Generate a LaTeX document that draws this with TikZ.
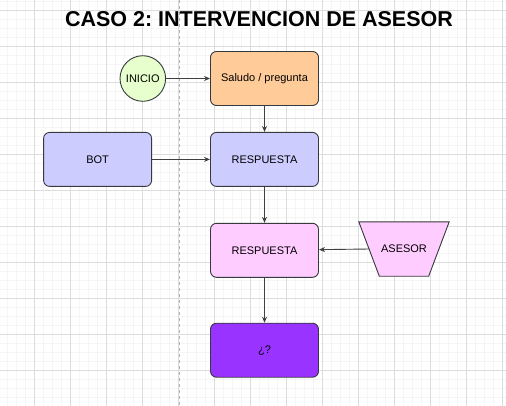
\documentclass[tikz,border=0pt]{standalone}
\usepackage{fontspec}
\setmainfont{Liberation Sans}
\usepackage{tikz}
\usetikzlibrary{arrows.meta,positioning,backgrounds}
\frenchspacing
\pgfdeclarelayer{paper}
\pgfsetlayers{paper,background,main}
\definecolor{Peach}{HTML}{FFCC99}
\definecolor{LightGreen}{HTML}{E6FFCC}
\definecolor{Lavender}{HTML}{CCCCFF}
\definecolor{LightPink}{HTML}{FFCCFF}
\definecolor{Violet}{HTML}{9933FF}
\definecolor{Stroke}{HTML}{36393D}
\definecolor{GridMajor}{HTML}{DDDDDD}
\definecolor{GridMinor}{HTML}{F5F5F5}

\begin{document}
\begin{tikzpicture} [x=1pt, y=1pt, >={Stealth[length=6pt,width=5pt]}, thin,
	   every node/.style={font=\fontsize{11}{13}\selectfont, text=black},
	   flowbox/.style = {rectangle, rounded corners=6pt, minimum width=108pt,
	                     minimum height=54pt, line width=0.9pt, draw=Stroke, fill=#1},
	   startnode/.style = {circle, minimum size=45.6pt, inner sep=0pt,
	                       line width=0.9pt, draw=Stroke, fill=#1},
	   manualbox/.style = {rectangle, minimum width=90pt, minimum height=54pt, inner sep=0pt},
	   flow/.style = {->, line width=0.9pt, draw=black!75}]
	%% Page and grid
	\useasboundingbox (0,0) rectangle (506,-405);
	\begin{pgfonlayer}{paper}
		\fill[white] (0,0) rectangle (506,-405);
		\clip (0,0) rectangle (506,-405);
		\begin{scope}[shift={(-1.3,-10)}]
			\draw[GridMinor, line width=0.5pt, step=9pt] (-18,18) grid (522,-414);
			\draw[GridMajor, line width=0.7pt, step=36pt] (-36,36) grid (540,-432);
		\end{scope}
		\draw[gray!60, dashed, line width=0.6pt] (179,0) -- (179,-405);
	\end{pgfonlayer}

	%% Title
	\node [font=\fontsize{21.5}{24}\selectfont\bfseries] (title) at (259,-19)
	      {CASO 2: INTERVENCION DE ASESOR};

	%% Steps
	\node [flowbox=Peach] (saludo) at (264.5,-78.5) {Saludo / pregunta};
	\node [startnode=LightGreen, left=44pt of saludo] (inicio) {INICIO};
	\node [flowbox=Lavender, below=26pt of saludo] (resp_bot) {RESPUESTA};
	\node [flowbox=Lavender, left=58pt of resp_bot] (bot) {BOT};
	\node [flowbox=LightPink, below=36pt of resp_bot] (resp_asesor) {RESPUESTA};
	\node [manualbox] (asesor) at (404,-249) {ASESOR};
	\node [flowbox=Violet, below=45pt of resp_asesor] (final) {¿?};

	%% Manual input shape behind ASESOR
	\begin{scope}[on background layer]
		\draw[line width=0.9pt, draw=Stroke, fill=LightPink]
		     (asesor.north west) -- (asesor.north east)
		     -- ([xshift=-20.5pt]asesor.south east) -- ([xshift=20.5pt]asesor.south west) -- cycle;
	\end{scope}
	\coordinate (asesor_in) at ([xshift=10.5pt]asesor.west);

	%% Connectors
	\draw[flow] (inicio) -- (saludo);
	\draw[flow] (saludo) -- (resp_bot);
	\draw[flow] (bot) -- (resp_bot);
	\draw[flow] (resp_bot) -- (resp_asesor);
	\draw[flow] (asesor_in) -- (resp_asesor);
	\draw[flow] (resp_asesor) -- (final);
\end{tikzpicture}
\end{document}
